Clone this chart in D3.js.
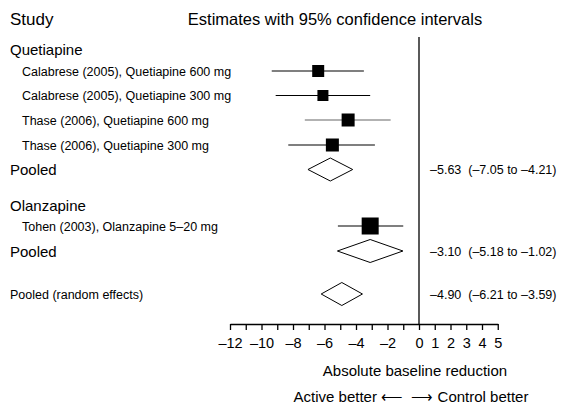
<!DOCTYPE html>
<html><head><meta charset="utf-8">
<script src="https://cdn.jsdelivr.net/npm/d3@7"></script>
<style>
body{margin:0;background:#fff;}
text{font-family:"Liberation Sans",Arial,sans-serif;fill:#000;}
</style></head>
<body><svg id="c" width="567" height="408"></svg>
<script>
// ---- data ----
const studies = ["Calabrese (2005), Quetiapine 600 mg","Calabrese (2005), Quetiapine 300 mg","Thase (2006), Quetiapine 600 mg","Thase (2006), Quetiapine 300 mg","Tohen (2003), Olanzapine 5\u201320 mg"];
const studyEst = [-6.4, -6.1, -4.5, -5.5, -3.1];
const studyLo = [-9.35, -9.1, -7.25, -8.3, -5.15];
const studyHi = [-3.5, -3.1, -1.8, -2.8, -1.0];
const studyWeight = [12, 11, 13, 13, 17];
const studyRow = [1, 2, 3, 4, 7];
const pooledLabels = ["Pooled", "Pooled", "Pooled (random effects)"];
const pooledEst = [-5.63, -3.10, -4.90];
const pooledLo = [-7.05, -5.18, -6.21];
const pooledHi = [-4.21, -1.02, -3.59];
const pooledRow = [5, 8, 9];
const groups = ["Quetiapine", "Olanzapine"];
const groupRow = [0, 6];
const tickValues = d3.range(-12, 6);
const tickLabels = [-12, -10, -8, -6, -4, -2, 0, 1, 2, 3, 4, 5];

// ---- layout ----
const svg = d3.select("#c");
const x = d3.scaleLinear().domain([-12, 5]).range([230, 497.75]);
const y = d3.scaleOrdinal().domain(d3.range(10)).range([49, 71, 95.5, 120, 145, 169.5, 205, 226, 251, 294]);
const fmt = v => (v < 0 ? "\u2013" : "") + Math.abs(v).toFixed(2);
const fmtTick = v => (v < 0 ? "\u2013" : "") + Math.abs(v);

svg.append("text").attr("x", 10).attr("y", 25).style("font-size", "17px").text("Study");
svg.append("text").attr("x", 335).attr("y", 25).attr("text-anchor", "middle").style("font-size", "16.5px").text("Estimates with 95% confidence intervals");

// vertical zero line
svg.append("line").attr("x1", x(0)).attr("x2", x(0)).attr("y1", 37).attr("y2", 324)
  .attr("stroke", "#000").attr("stroke-width", 1.3);

// group headers
groups.forEach((g, i) => {
  svg.append("text").attr("x", 10).attr("y", y(groupRow[i]) + 5.5).style("font-size", "15px").text(g);
});

// studies
studies.forEach((s, i) => {
  const yy = y(studyRow[i]);
  svg.append("text").attr("x", 22).attr("y", yy + 4.5).style("font-size", "12.5px").text(s);
  svg.append("line").attr("x1", x(studyLo[i])).attr("x2", x(studyHi[i])).attr("y1", yy).attr("y2", yy)
    .attr("stroke", i === 2 ? "#666" : "#000").attr("stroke-width", 1.1);
  const w = studyWeight[i];
  svg.append("rect").attr("x", x(studyEst[i]) - w / 2).attr("y", yy - w / 2).attr("width", w).attr("height", w).attr("fill", "#000");
});

// pooled
pooledLabels.forEach((p, i) => {
  const yy = y(pooledRow[i]);
  const big = i < 2;
  svg.append("text").attr("x", 10).attr("y", yy + (big ? 5.5 : 4.5)).style("font-size", big ? "15px" : "12.5px").text(p);
  const h = 11.5;
  const pts = [[x(pooledLo[i]), yy], [x(pooledEst[i]), yy - h], [x(pooledHi[i]), yy], [x(pooledEst[i]), yy + h]];
  svg.append("path").attr("d", d3.line()(pts) + "Z").attr("fill", "#fff").attr("stroke", "#000").attr("stroke-width", 1);
  svg.append("text").attr("x", 430).attr("y", yy + 4.5).style("font-size", "12.5px")
    .text(fmt(pooledEst[i]) + "  (" + fmt(pooledLo[i]) + " to " + fmt(pooledHi[i]) + ")").attr("xml:space", "preserve");
});

// axis
const axis = d3.axisBottom(x).tickValues(tickValues).tickSize(6).tickSizeOuter(0).tickPadding(8)
  .tickFormat(v => tickLabels.includes(v) ? fmtTick(v) : "");
const ag = svg.append("g").attr("transform", "translate(0,324)").call(axis);
ag.select(".domain").attr("stroke", "#000").attr("stroke-width", 1.4);
ag.selectAll(".tick line").attr("stroke", "#000").attr("stroke-width", 1.3);
ag.selectAll(".tick text").style("font-size", "14.5px").style("font-family", '"Liberation Sans",Arial,sans-serif').attr("fill", "#000");

svg.append("text").attr("x", 415).attr("y", 376).attr("text-anchor", "middle").style("font-size", "15px").text("Absolute baseline reduction");
svg.append("text").attr("x", 411).attr("y", 402).attr("text-anchor", "middle").style("font-size", "15px").text("Active better \u27F5  \u27F6 Control better").attr("xml:space", "preserve");
</script></body></html>
